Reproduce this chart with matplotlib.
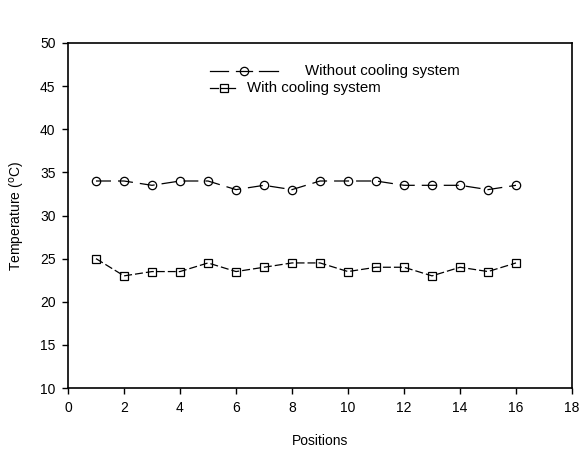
import matplotlib
matplotlib.use("Agg")
import matplotlib.pyplot as plt
from matplotlib.lines import Line2D

positions = list(range(1, 17))
without_cooling = [34, 34, 33.5, 34, 34, 33, 33.5, 33, 34, 34, 34, 33.5, 33.5, 33.5, 33, 33.5]
with_cooling = [25, 23, 23.5, 23.5, 24.5, 23.5, 24, 24.5, 24.5, 23.5, 24, 24, 23, 24, 23.5, 24.5]
xticks = list(range(0, 19, 2))
yticks = list(range(10, 51, 5))

plt.rcParams['font.family'] = ['Liberation Sans', 'DejaVu Sans']
plt.rcParams['lines.scale_dashes'] = False
fig = plt.figure(figsize=(5.8, 4.5), dpi=100)
ax = fig.add_axes([68/580, 1-388/450, (572-68)/580, (388-43)/450])

PX = 72/100  # points per pixel
dash_without = (0, (15*PX, 7*PX))
dash_with = (0, (8*PX, 3*PX))

ax.plot(positions, without_cooling, color='black', lw=0.9, ls=dash_without,
        marker='o', ms=6, mfc='none', mec='black', mew=0.9)
ax.plot(positions, with_cooling, color='black', lw=0.9, ls=dash_with,
        marker='s', ms=5.6, mfc='none', mec='black', mew=0.9)

ax.set_xlim(0, 18)
ax.set_ylim(10, 50)
ax.set_xticks(xticks)
ax.set_yticks(yticks)
ax.tick_params(direction='out', length=4, width=1, labelsize=10, pad=5)
for s in ax.spines.values():
    s.set_linewidth(1.2)
ax.set_xlabel('Positions', fontsize=10, labelpad=14)
ax.set_ylabel('Temperature ($^{\\rm o}$C)', fontsize=10, labelpad=9)

# manual legend (figure pixel coords)
def fl(x0, x1, y, **kw):
    fig.add_artist(Line2D([x0/580, x1/580], [1-y/450]*2, color='black', lw=0.9, **kw))

fl(210, 228, 71)
fl(236, 252, 71)
fl(259, 278, 71)
fig.add_artist(Line2D([244/580], [1-71/450], ls='none', marker='o', ms=6,
                      mfc='none', mec='black', mew=0.9))
fig.text(305/580, 1-71/450, 'Without cooling system', fontsize=10.8, va='center', ha='left')

fl(210, 218, 88)
fl(221, 235, 88)
fig.add_artist(Line2D([224/580], [1-88/450], ls='none', marker='s', ms=5.6,
                      mfc='none', mec='black', mew=0.9))
fig.text(247/580, 1-88/450, 'With cooling system', fontsize=10.8, va='center', ha='left')

fig.savefig('out.png', dpi=100)
